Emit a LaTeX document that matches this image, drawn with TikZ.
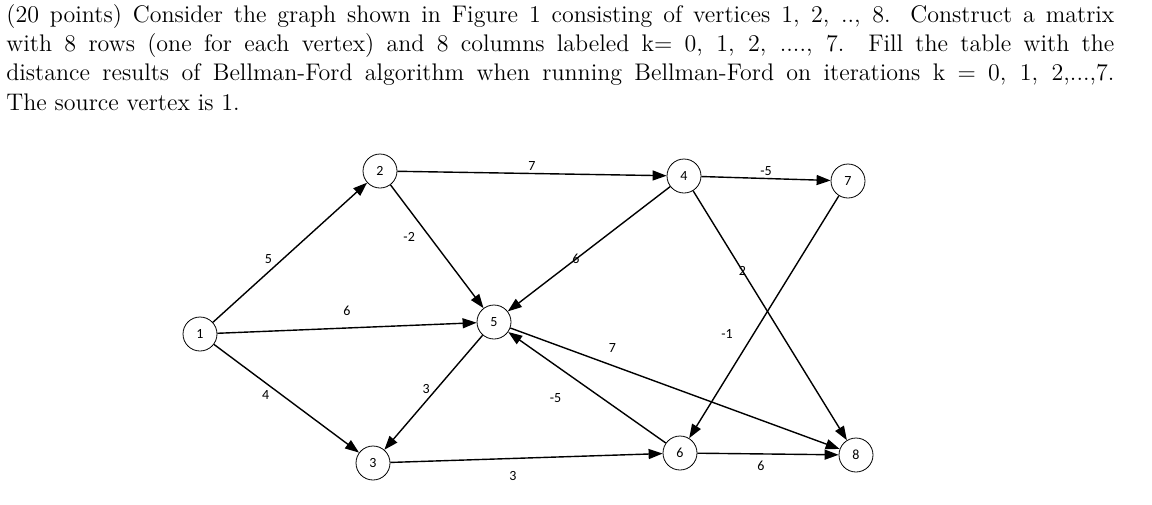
\documentclass[tikz,border=0pt]{standalone}
\usepackage{fontspec}
\newfontfamily\graphfont{Carlito}
\usetikzlibrary{arrows.meta, positioning}

\begin{document}
\begin{tikzpicture}[x=0.5pt, y=-0.5pt,
    vertex/.style={draw, circle, minimum size=17pt, inner sep=0pt, fill=white,
      font=\graphfont\fontsize{7}{8}\selectfont},
    edge/.style={-{Triangle[length=7pt, width=5pt]}, line width=0.7pt},
    wlabel/.style={font=\graphfont\fontsize{7}{8}\selectfont, inner sep=1pt}]
  \useasboundingbox (0,0) rectangle (1152,504);

  % question
  \node [anchor=north west, text width=554pt, align=justify, inner sep=0pt,
  font=\fontsize{12}{14.6}\selectfont] (task) at (6,4)
  {(20 points) Consider the graph shown in Figure 1 consisting of vertices 1, 2, .., 8. Construct a matrix\linebreak
  with 8 rows (one for each vertex) and 8 columns labeled k= 0, 1, 2, ...., 7. Fill the table with the\linebreak
  distance results of Bellman-Ford algorithm when running Bellman-Ford on iterations k $=$ 0, 1, 2,...,7.\linebreak
  The source vertex is 1.};

  % vertices
  \node [vertex] (v1) at (200,334) {1};
  \node [vertex] (v2) at (380,171) {2};
  \node [vertex] (v3) at (373,463) {3};
  \node [vertex] (v4) at (684,176) {4};
  \node [vertex] (v5) at (494,322) {5};
  \node [vertex] (v6) at (680,453) {6};
  \node [vertex] (v7) at (848,181) {7};
  \node [vertex] (v8) at (856,455) {8};

  % edges
  \draw [edge] (v1) -- node [wlabel, pos=0.4, above left] {5} (v2);
  \draw [edge] (v1) -- node [wlabel, pos=0.5, above=5pt] {6} (v5);
  \draw [edge] (v1) -- node [wlabel, pos=0.4, below left] {4} (v3);
  \draw [edge] (v2) -- node [wlabel, pos=0.5, above] {7} (v4);
  \draw [edge] (v2) -- node [wlabel, pos=0.42, left=6pt] {-2} (v5);
  \draw [edge] (v4) -- node [wlabel, pos=0.5, above] {-5} (v7);
  \draw [edge] (v4) -- node [wlabel, pos=0.58] {6} (v5);
  \draw [edge] (v4) -- node [wlabel, pos=0.32] {2} (v8);
  \draw [edge] (v7) -- node [wlabel, pos=0.57, left=9pt] {-1} (v6);
  \draw [edge] (v5) -- node [wlabel, pos=0.47, left=2pt] {3} (v3);
  \draw [edge] (v5) -- node [wlabel, pos=0.31, above=5pt] {7} (v8);
  \draw [edge] (v6) -- node [wlabel, pos=0.7, below=13pt] {-5} (v5);
  \draw [edge] (v3) -- node [wlabel, pos=0.45, below=5pt] {3} (v6);
  \draw [edge] (v6) -- node [wlabel, pos=0.45, below=2pt] {6} (v8);
\end{tikzpicture}
\end{document}
